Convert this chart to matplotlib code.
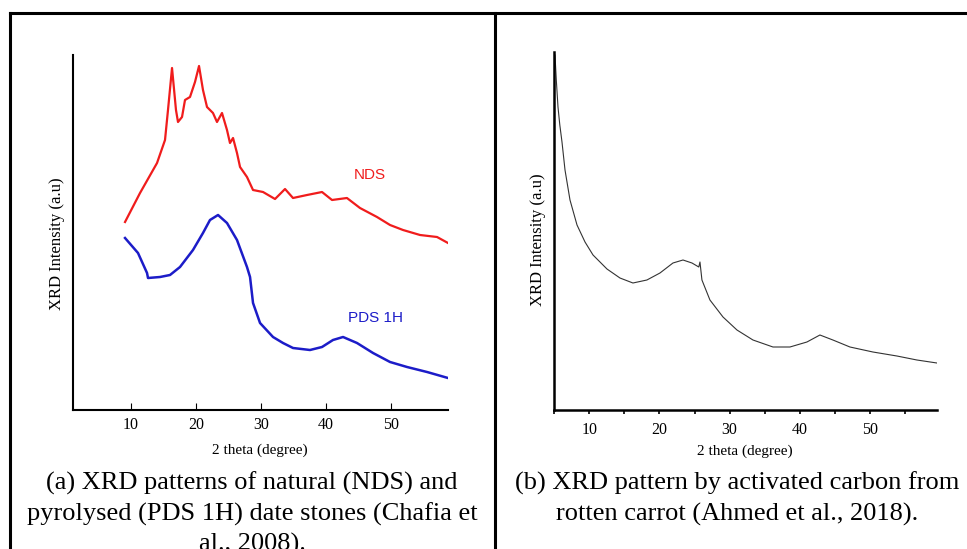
import matplotlib
matplotlib.use("Agg")
import matplotlib.pyplot as plt
from matplotlib.lines import Line2D
from matplotlib.ticker import FixedLocator

# (a) natural / pyrolysed date stones
nds_theta = [9.08, 11.39, 14.01, 15.24, 15.70, 16.32, 16.93, 17.24, 17.86, 18.32,
             19.09, 19.86, 20.48, 21.09, 21.71, 22.63, 23.25, 24.02, 24.79, 25.25,
             25.72, 26.33, 26.80, 27.87, 28.80, 30.34, 32.19, 33.73, 34.96, 37.12,
             39.43, 40.97, 43.27, 45.28, 47.90, 49.91, 51.91, 54.53, 57.15, 58.84]
nds_int = [188, 217, 247, 270, 300, 342, 300, 288, 293, 310,
           313, 328, 344, 320, 303, 297, 288, 297, 280, 267,
           272, 257, 243, 233, 220, 218, 211, 221, 212, 215,
           218, 210, 212, 202, 193, 185, 180, 175, 173, 167]

pds_theta = [9.08, 11.08, 12.47, 12.62, 14.47, 16.01, 17.55, 19.55, 21.09, 22.17,
             23.41, 24.79, 26.33, 27.87, 28.34, 28.80, 29.88, 31.88, 33.42, 34.96,
             37.58, 39.43, 41.12, 42.67, 44.82, 47.29, 49.91, 52.53, 55.61, 58.84]
pds_int = [172, 157, 137, 132, 133, 135, 143, 160, 177, 190,
           195, 187, 170, 143, 133, 107, 87, 73, 67, 62,
           60, 63, 70, 73, 67, 57, 48, 43, 38, 32]

# (b) activated carbon from rotten carrot
ac_theta = [5.11, 5.30, 5.54, 5.80, 6.11, 6.54, 7.25, 8.25, 9.39, 10.53, 12.52, 14.37,
            16.22, 18.21, 20.07, 21.92, 23.35, 24.63, 25.60, 25.77, 26.05, 27.19,
            29.05, 31.04, 33.32, 36.17, 38.59, 41.01, 42.86, 44.71, 47.14, 50.41,
            53.83, 56.68, 59.53]
ac_int = [355, 330, 303, 285, 268, 240, 210, 185, 168, 155, 141, 132,
          127, 130, 137, 147, 150, 147, 143, 148, 130, 110,
          93, 80, 70, 63, 63, 68, 75, 70, 63, 58,
          54, 50, 47]

plt.rcParams['font.family'] = ['Liberation Serif', 'DejaVu Serif']

fig = plt.figure(figsize=(9.67, 5.49), dpi=100)
W, H = 967.0, 549.0

def fx(px):
    return px / W

def fy(py):
    return 1 - py / H

# table borders
for xs, ys in [([9.5, 967], [13, 13]), ([9.5, 9.5], [13, 549]), ([495, 495], [13, 549])]:
    fig.add_artist(Line2D([fx(x) for x in xs], [fy(y) for y in ys], color='black', lw=2.2))

# ---- panel a ----
ax1 = fig.add_axes([fx(73.3), fy(410), fx(448 - 73.3), (410 - 55) / H])
ax1.plot(nds_theta, nds_int, color='#f01c1c', lw=1.6)
ax1.plot(pds_theta, pds_int, color='#1c1cc8', lw=1.8)
ax1.set_xlim(1.11, 58.84)
ax1.set_ylim(0, 355)
ax1.spines['top'].set_visible(False)
ax1.spines['right'].set_visible(False)
for s in ['left', 'bottom']:
    ax1.spines[s].set_linewidth(1.5)
ax1.set_yticks([])
ax1.xaxis.set_major_locator(FixedLocator([10, 20, 30, 40, 50]))
ax1.tick_params(axis='x', direction='in', length=5, width=0.8, labelsize=11.5, pad=5)
ax1.text(46.8, 235, 'NDS', color='#f01c1c', fontsize=11, family=['Liberation Sans'],
         ha='center', va='center')
ax1.text(47.6, 92, 'PDS 1H', color='#1c1cc8', fontsize=11, family=['Liberation Sans'],
         ha='center', va='center')

fig.text(fx(260), fy(450), '2 theta (degree)', fontsize=11, ha='center', va='center')
fig.text(fx(57), fy(244), 'XRD Intensity (a.u)', fontsize=12, rotation=90,
         ha='center', va='center')

# ---- panel b ----
ax2 = fig.add_axes([fx(554.2), fy(410), fx(936.7 - 554.2), (410 - 52) / H])
ax2.plot(ac_theta, ac_int, color='#333333', lw=0.8)
ax2.set_xlim(5, 59.5)
ax2.set_ylim(0, 358)
ax2.spines['top'].set_visible(False)
ax2.spines['right'].set_visible(False)
for s in ['left', 'bottom']:
    ax2.spines[s].set_linewidth(1.8)
ax2.set_yticks([])
ax2.xaxis.set_major_locator(FixedLocator([10, 20, 30, 40, 50]))
ax2.xaxis.set_minor_locator(FixedLocator([5, 15, 25, 35, 45, 55]))
ax2.tick_params(axis='x', which='both', direction='out', length=3, width=1.2,
                labelsize=11.5, pad=6)

fig.text(fx(745), fy(451), '2 theta (degree)', fontsize=11, ha='center', va='center')
fig.text(fx(538), fy(240), 'XRD Intensity (a.u)', fontsize=12, rotation=90,
         ha='center', va='center')

# captions
cap_a = ['(a) XRD patterns of natural (NDS) and',
         'pyrolysed (PDS 1H) date stones (Chafia et',
         'al., 2008).']
cap_b = ['(b) XRD pattern by activated carbon from',
         'rotten carrot (Ahmed et al., 2018).']
for i, line in enumerate(cap_a):
    fig.text(fx(252), fy(490 + 30.5 * i), line, fontsize=19, ha='center', va='baseline')
for i, line in enumerate(cap_b):
    fig.text(fx(737), fy(490 + 30.5 * i), line, fontsize=19, ha='center', va='baseline')

fig.savefig('out.png', dpi=100)
